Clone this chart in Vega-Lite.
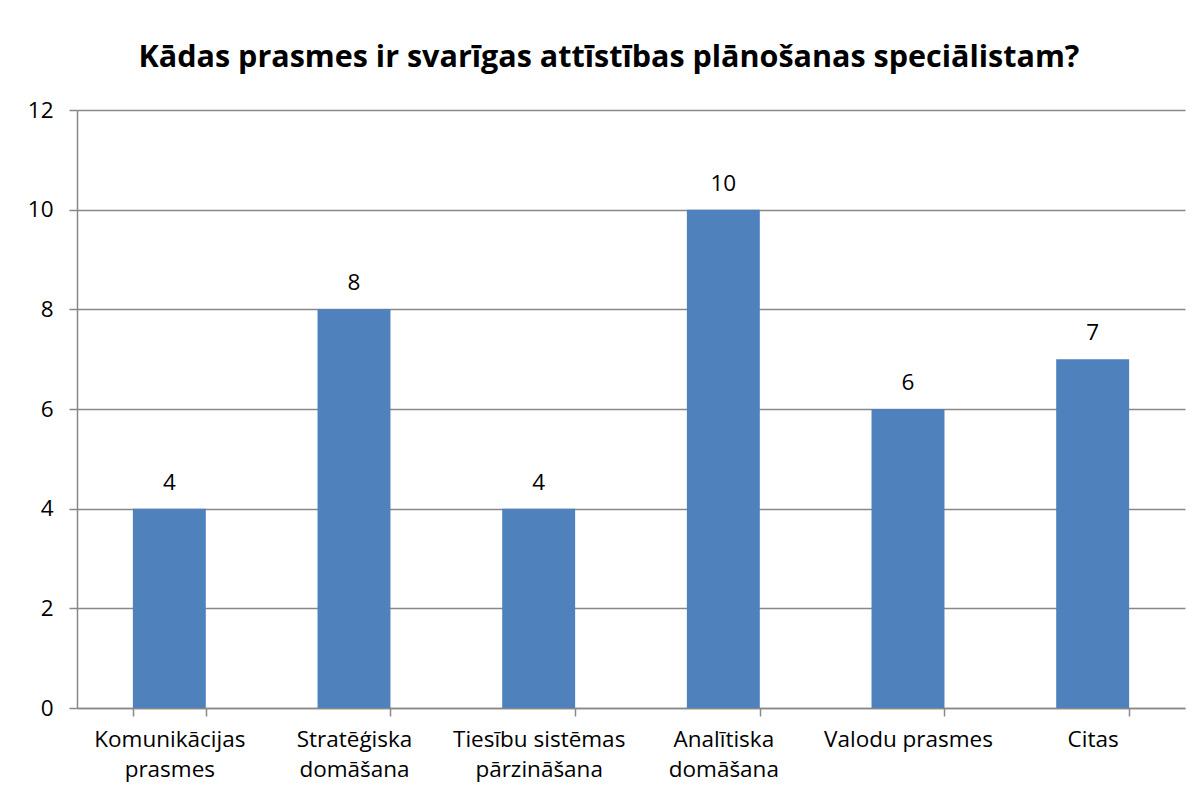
{
  "$schema": "https://vega.github.io/schema/vega-lite/v6.json",
  "autosize": "none",
  "width": 1108,
  "height": 598,
  "padding": {"left": 77, "top": 110, "right": 15, "bottom": 90},
  "background": "white",
  "title": {
    "text": "Kādas prasmes ir svarīgas attīstības plānošanas speciālistam?",
    "font": "Open Sans",
    "fontSize": 30.5,
    "fontWeight": "bold",
    "color": "black",
    "anchor": "middle",
    "frame": "group",
    "baseline": "alphabetic",
    "offset": 2,
    "dx": -22
  },
  "data": {
    "values": [
      {"prasme": "Komunikācijas prasmes", "skaits": 4},
      {"prasme": "Stratēģiska domāšana", "skaits": 8},
      {"prasme": "Tiesību sistēmas pārzināšana", "skaits": 4},
      {"prasme": "Analītiska domāšana", "skaits": 10},
      {"prasme": "Valodu prasmes", "skaits": 6},
      {"prasme": "Citas", "skaits": 7}
    ]
  },
  "encoding": {
    "x": {
      "field": "prasme",
      "type": "nominal",
      "sort": null,
      "scale": {"paddingInner": 0.605, "paddingOuter": 0.3025},
      "axis": {
        "title": null,
        "labelAngle": 0,
        "labelFont": "Open Sans",
        "labelFontSize": 22.5,
        "labelColor": "black",
        "labelLineHeight": 30,
        "labelPadding": 12,
        "labelBaseline": "top",
        "tickBand": "extent",
        "tickSize": 8,
        "tickColor": "#888888",
        "domainColor": "#888888",
        "domainWidth": 1.5,
        "tickWidth": 1.5,
        "labelExpr": "!isString(datum.value) ? '' : datum.value == 'Tiesību sistēmas pārzināšana' ? ['Tiesību sistēmas', 'pārzināšana'] : datum.value == 'Valodu prasmes' ? datum.value : split(datum.value, ' ')"
      }
    },
    "y": {
      "field": "skaits",
      "type": "quantitative",
      "scale": {"domain": [0, 12], "nice": false},
      "axis": {
        "title": null,
        "values": [0, 2, 4, 6, 8, 10, 12],
        "labelFont": "Open Sans",
        "labelFontSize": 22.5,
        "labelColor": "black",
        "labelPadding": 16,
        "tickSize": 8,
        "tickColor": "#888888",
        "tickWidth": 1.5,
        "domainColor": "#888888",
        "domainWidth": 1.5,
        "grid": true,
        "gridColor": "#888888",
        "gridWidth": 1.5
      }
    }
  },
  "layer": [
    {"mark": {"type": "bar", "color": "#4F81BD"}},
    {
      "mark": {"type": "text", "font": "Open Sans", "fontSize": 22.5, "color": "black", "baseline": "alphabetic", "dy": -19},
      "encoding": {"text": {"field": "skaits", "type": "quantitative"}}
    }
  ],
  "config": {"view": {"stroke": null}}
}
